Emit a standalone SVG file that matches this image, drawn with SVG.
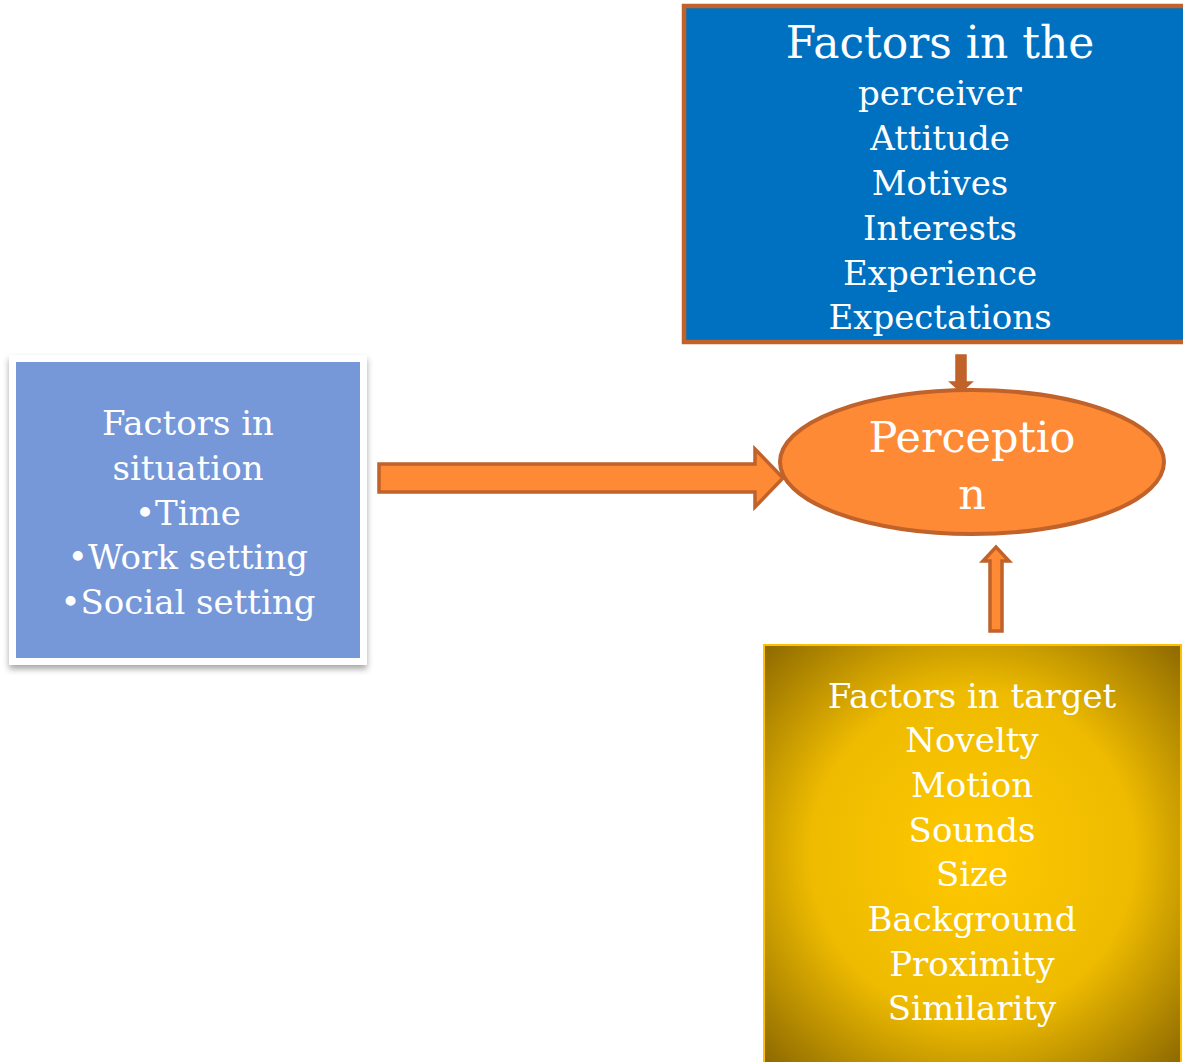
<svg xmlns="http://www.w3.org/2000/svg" width="1183" height="1062" viewBox="0 0 1183 1062">
<style>
text{font-family:"DejaVu Serif","Liberation Serif",serif;fill:#ffffff;text-anchor:middle;font-size:34px}
.title{font-size:44px}
.perc{font-size:43px}
.arrow{fill:#FF8A36;stroke:#C0622A;stroke-width:3.5;stroke-linejoin:miter}
</style>
<defs>
<radialGradient id="gold" cx="50%" cy="50%" r="71%">
<stop offset="0" stop-color="#FFC800"/>
<stop offset="0.55" stop-color="#EEBB00"/>
<stop offset="1" stop-color="#8C6800"/>
</radialGradient>
<filter id="shadow" x="-10%" y="-10%" width="125%" height="125%">
<feDropShadow dx="0" dy="4" stdDeviation="3" flood-color="#000" flood-opacity="0.35"/>
</filter>
</defs>
<rect width="1183" height="1062" fill="#ffffff"/>
<g id="connectors">
<path class="arrow" d="M379,464 L755,464 L755,449 L783,478 L755,507 L755,492 L379,492 Z"/>
<path d="M956,355 L966,355 L966,382 L972,382 L961,392 L950,382 L956,382 Z" fill="#C0622A" stroke="#C0622A" stroke-width="1.5"/>
<path class="arrow" d="M990,631 L1002,631 L1002,561 L1009,561 L996,547 L983,561 L990,561 Z" stroke-width="3"/>
</g>
<g id="perceiver">
<rect x="684" y="6" width="510" height="336" fill="#0070C0" stroke="#C0622A" stroke-width="4.5"/>
<text class="title" x="940" y="58">Factors in the</text>
<text x="940" y="105">perceiver</text>
<text x="940" y="150">Attitude</text>
<text x="940" y="195">Motives</text>
<text x="940" y="240">Interests</text>
<text x="940" y="285">Experience</text>
<text x="940" y="329">Expectations</text>
</g>
<g id="situation">
<rect x="9" y="355" width="358" height="310" fill="#ffffff" filter="url(#shadow)"/>
<rect x="16" y="362" width="344" height="296" fill="#7698D8"/>
<text x="188" y="435">Factors in</text>
<text x="188" y="480">situation</text>
<text x="188" y="525">•Time</text>
<text x="188" y="569">•Work setting</text>
<text x="188" y="614">•Social setting</text>
</g>
<g id="perception">
<ellipse cx="972" cy="462" rx="192" ry="72" fill="#FF8A36" stroke="#C0622A" stroke-width="4"/>
<text class="perc" x="972" y="452">Perceptio</text>
<text class="perc" x="972" y="509">n</text>
</g>
<g id="target">
<rect x="764" y="645" width="417" height="418" fill="url(#gold)" stroke="#FFC000" stroke-width="2"/>
<text x="972" y="708">Factors in target</text>
<text x="972" y="752">Novelty</text>
<text x="972" y="797">Motion</text>
<text x="972" y="842">Sounds</text>
<text x="972" y="886">Size</text>
<text x="972" y="931">Background</text>
<text x="972" y="976">Proximity</text>
<text x="972" y="1020">Similarity</text>
</g>
</svg>
